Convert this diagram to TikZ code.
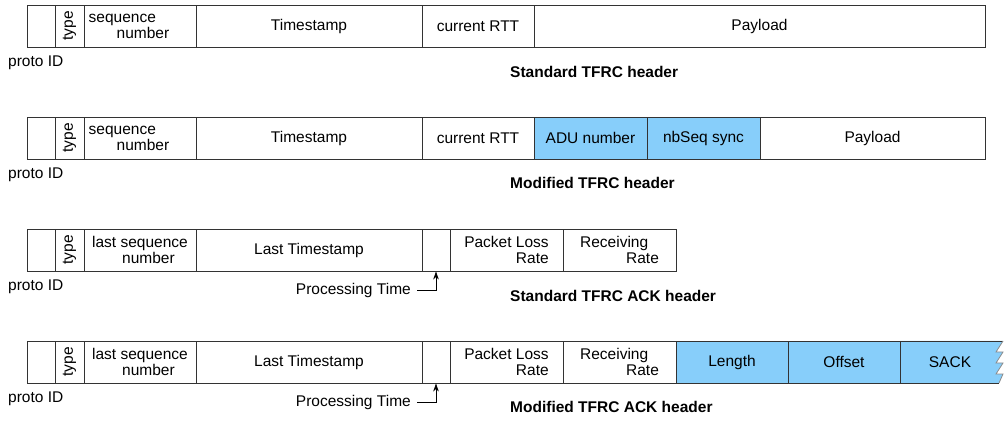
\documentclass[tikz,border=0pt]{standalone}
\usepackage{fontspec}
\setmainfont{Liberation Sans}
\usetikzlibrary{arrows.meta}
\definecolor{fieldblue}{RGB}{135,206,250}
\tikzset{
  field/.style={draw=black!80, line width=0.9pt, minimum height=42pt, inner sep=0pt, align=center},
  newfield/.style={field, fill=fieldblue},
  note/.style={inner sep=0pt, anchor=west},
  caption/.style={note, font=\fontsize{15.5}{17}\selectfont\bfseries},
}
\begin{document}
\begin{tikzpicture}[x=1pt, y=-1pt, font=\fontsize{15.5}{16}\selectfont]
  \useasboundingbox (0,0) rectangle (1005,422);
  % proto ID and type, same in all four headers
  \foreach \r/\y in {1/26, 2/138, 3/250, 4/362} {
    \node[field, minimum width=28pt] (proto\r) at (41,\y) {};
    \node[field, rotate=90, minimum width=42pt, minimum height=29pt] (type\r) at (69.5,\y) {type};
    \node[note] (protolbl\r) at (8,\y+37) {proto ID};
  }
  % standard TFRC header
  \node[field, minimum width=112pt, align=left] (seq1) at (140,26) {sequence\\\hspace*{28pt}number\hspace*{22pt}};
  \node[field, minimum width=226pt] (ts1) at (309,26) {Timestamp};
  \node[field, minimum width=112pt] (rtt1) at (478,26) {current RTT};
  \node[field, minimum width=451pt] (pay1) at (759.5,26) {Payload};
  \node[caption] (cap1) at (510,72) {Standard TFRC header};
  % modified TFRC header
  \node[field, minimum width=112pt, align=left] (seq2) at (140,138) {sequence\\\hspace*{28pt}number\hspace*{22pt}};
  \node[field, minimum width=226pt] (ts2) at (309,138) {Timestamp};
  \node[field, minimum width=112pt] (rtt2) at (478,138) {current RTT};
  \node[newfield, minimum width=113pt] (adu2) at (590.5,138) {ADU number};
  \node[newfield, minimum width=113pt] (nbseq2) at (703.5,138) {nbSeq sync};
  \node[field, minimum width=225pt] (pay2) at (872.5,138) {Payload};
  \node[caption] (cap2) at (510,183) {Modified TFRC header};
  % standard TFRC ACK header
  \node[field, minimum width=112pt, align=left] (lseq3) at (140,250) {last sequence\\\hspace*{30pt}number};
  \node[field, minimum width=226pt] (lts3) at (309,250) {Last Timestamp};
  \node[field, minimum width=28pt] (pt3) at (436,250) {};
  \node[field, minimum width=113pt, align=right] (plr3) at (506.5,250) {Packet Loss\\Rate};
  \node[field, minimum width=113pt, align=left] (rr3) at (619.5,250) {Receiving\\\hspace*{46pt}Rate};
  \node[note, anchor=east] (ptlbl3) at (411,290) {Processing Time};
  \draw[-{Stealth[length=8pt,width=5.5pt]}, line width=0.8pt] ([xshift=6pt]ptlbl3.east) -| (pt3.south);
  \node[caption] (cap3) at (510,296) {Standard TFRC ACK header};
  % modified TFRC ACK header
  \node[field, minimum width=112pt, align=left] (lseq4) at (140,362) {last sequence\\\hspace*{30pt}number};
  \node[field, minimum width=226pt] (lts4) at (309,362) {Last Timestamp};
  \node[field, minimum width=28pt] (pt4) at (436,362) {};
  \node[field, minimum width=113pt, align=right] (plr4) at (506.5,362) {Packet Loss\\Rate};
  \node[field, minimum width=113pt, align=left] (rr4) at (619.5,362) {Receiving\\\hspace*{46pt}Rate};
  \node[newfield, minimum width=112pt] (len4) at (732,362) {Length};
  \node[newfield, minimum width=112pt] (off4) at (844,362) {Offset};
  % SACK runs on, cut off with a torn edge
  \fill[fieldblue] (900,341) -- (1003,341) -- (996,352) -- (1003,352) -- (996,363) -- (1003,363)
    -- (996,374) -- (1003,374) -- (999,383) -- (900,383) -- cycle;
  \draw[black!80, line width=0.9pt] (1003,341) -- (900,341) -- (900,383) -- (999,383);
  \draw[black!45, line width=0.8pt] (1003,341) -- (996,352) -- (1003,352) -- (996,363) -- (1003,363)
    -- (996,374) -- (1003,374) -- (999,383);
  \node (sack4) at (950,362) {SACK};
  \node[note, anchor=east] (ptlbl4) at (411,402) {Processing Time};
  \draw[-{Stealth[length=8pt,width=5.5pt]}, line width=0.8pt] ([xshift=6pt]ptlbl4.east) -| (pt4.south);
  \node[caption] (cap4) at (510,407) {Modified TFRC ACK header};
\end{tikzpicture}
\end{document}
